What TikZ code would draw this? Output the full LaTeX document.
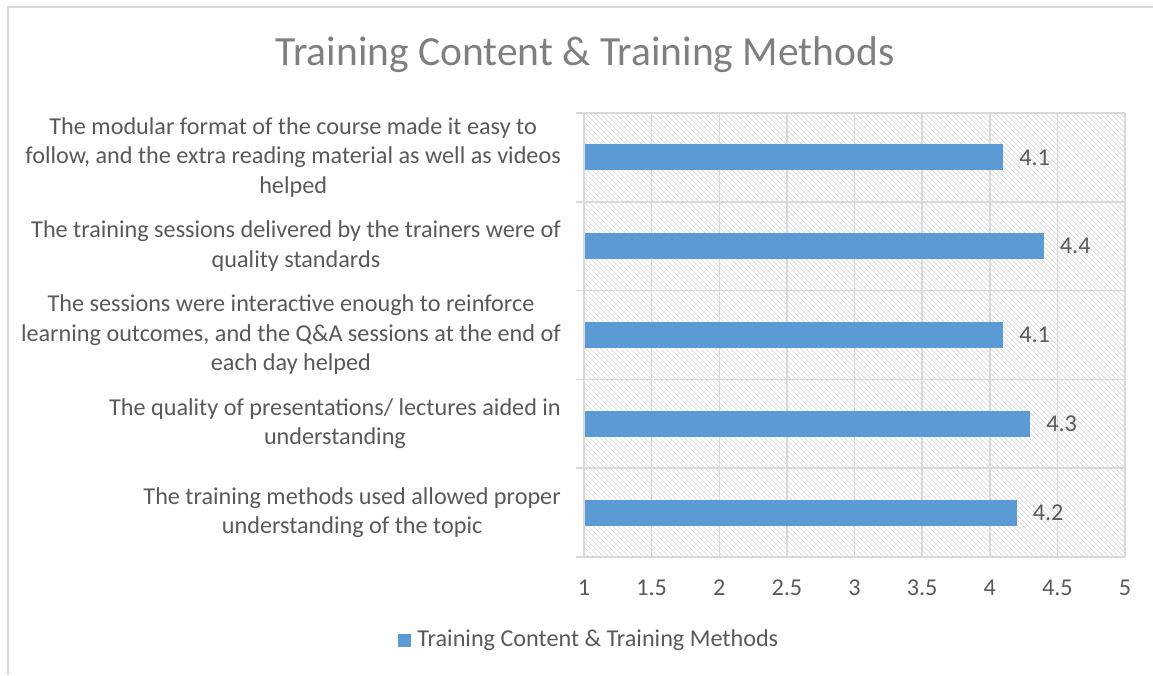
\documentclass[tikz,border=0pt]{standalone}
\usepackage{fontspec}
\setmainfont{Carlito}
\usetikzlibrary{positioning}

\definecolor{barblue}{HTML}{5B9BD5}
\definecolor{gridgray}{HTML}{D9D9D9}
\definecolor{hatchgray}{HTML}{DADADA}
\definecolor{txtgray}{HTML}{595959}
\definecolor{titlegray}{HTML}{7F7F7F}

\newcommand{\lblfont}{\fontsize{24.2}{29.5}\selectfont}

\begin{document}
\begin{tikzpicture}[x=1pt,y=-1pt,
	grid line/.style={gridgray,line width=1.5pt},
	hatch line/.style={hatchgray,line width=0.7pt},
	bar/.style={fill=barblue,draw=none},
	cat label/.style={anchor=east,align=center,inner sep=0pt,text=txtgray,font=\lblfont},
	val label/.style={inner sep=0pt,text=txtgray,font=\lblfont},
	tick label/.style={inner sep=0pt,text=txtgray,font=\lblfont}]
	
	\useasboundingbox (0,0) rectangle (1153,675);
	\draw[grid line] (8,675) -- (8,7) -- (1153,7);
	
	\node[text=titlegray,font=\fontsize{41.5}{50}\selectfont,inner sep=0pt] (title) at (585,55) {Training Content \& Training Methods};
	
	% plot area
	\coordinate (pa) at (584,113);
	\coordinate (pb) at (1125,557);
	\begin{scope}
		\clip (pa) rectangle (pb);
		\foreach \x in {140,145,...,1125}
		\draw[hatch line] (\x,113) -- ++(444,444);
	\end{scope}
	\foreach \k in {0,...,8}
	\draw[grid line] ({584+67.625*\k},113) -- ({584+67.625*\k},557);
	\foreach \j in {0,...,5}
	\draw[grid line] (576,{113+88.8*\j}) -- (1125,{113+88.8*\j});
	
	\foreach \v [count=\k from 0] in {1,1.5,2,2.5,3,3.5,4,4.5,5}
	\node[tick label] (t\k) at ({584+67.625*\k},588) {\v};
	
	% bars
	\foreach \v [count=\i from 0] in {4.1,4.4,4.1,4.3,4.2} {
		\fill[bar] (585,{144.4+88.8*\i}) rectangle ({584+135.2*(\v-1)},{170.4+88.8*\i});
		\coordinate (e\i) at ({584+135.2*(\v-1)},{157.4+88.8*\i});
		\node[val label,right=16pt of e\i] (v\i) {\v};
	}
	
	\node[cat label] (c0) at (561,157.4) {The modular format of the course made it easy to\\follow, and the extra reading material as well as videos\\helped};
	\node[cat label] (c1) at (561,246.2) {The training sessions delivered by the trainers were of\\quality standards};
	\node[cat label] (c2) at (561,335) {The sessions were interactive enough to reinforce\\learning outcomes, and the Q\&A sessions at the end of\\each day helped};
	\node[cat label] (c3) at (561,423.8) {The quality of presentations/ lectures aided in\\understanding};
	\node[cat label] (c4) at (561,512.6) {The training methods used allowed proper\\understanding of the topic};
	
	% legend
	\node[fill=barblue,minimum size=13pt,inner sep=0pt] (lg) at (404.5,640.5) {};
	\node[tick label,right=6pt of lg] (lgt) {Training Content \& Training Methods};
\end{tikzpicture}
\end{document}
